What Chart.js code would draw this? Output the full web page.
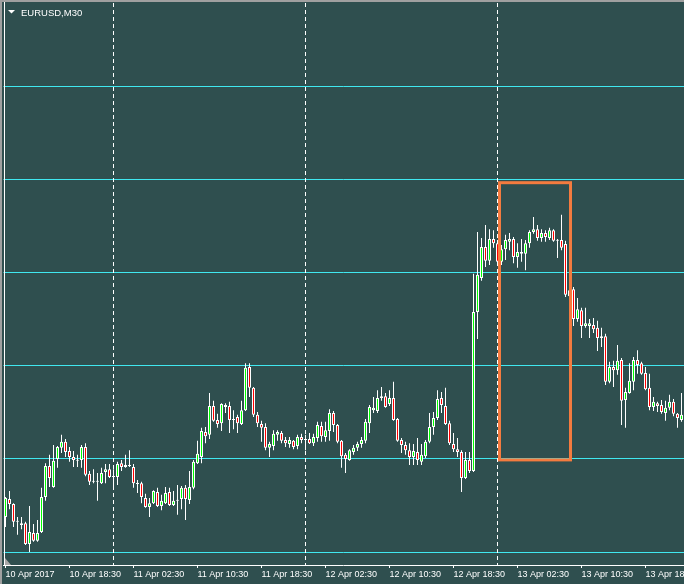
<!DOCTYPE html>
<html>
<head>
<meta charset="utf-8">
<title>EURUSD,M30</title>
<style>
  html, body { margin: 0; padding: 0; background: #2f4f4f; overflow: hidden; }
  canvas { display: block; }
</style>
</head>
<body>
<canvas id="chart" width="684" height="584"></canvas>
<script src="https://cdn.jsdelivr.net/npm/chart.js@4.4.1/dist/chart.umd.min.js"></script>
<script>
// EURUSD M30 bars, oldest first (10 Apr 2017 10:30 onwards)
const opens = [
  1.05875, 1.05914, 1.05903, 1.05867, 1.05862, 1.05862, 1.05817, 1.05841, 1.05824, 1.05843,
  1.05918, 1.05985, 1.05940, 1.06000, 1.06024, 1.06037, 1.06017, 1.06004, 1.05998, 1.05998,
  1.06026, 1.05968, 1.05953, 1.05953, 1.05948, 1.05972, 1.05978, 1.05963, 1.05961, 1.05991,
  1.05983, 1.05987, 1.05983, 1.05948, 1.05948, 1.05916, 1.05897, 1.05905, 1.05929, 1.05899,
  1.05905, 1.05929, 1.05901, 1.05912, 1.05914, 1.05938, 1.05912, 1.05938, 1.05991, 1.06004,
  1.06058, 1.06052, 1.06114, 1.06084, 1.06077, 1.06112, 1.06114, 1.06086, 1.06090, 1.06075,
  1.06105, 1.06198, 1.06153, 1.06095, 1.06075, 1.06069, 1.06024, 1.06028, 1.06052, 1.06056,
  1.06041, 1.06032, 1.06039, 1.06028, 1.06047, 1.06043, 1.06043, 1.06034, 1.06045, 1.06071,
  1.06047, 1.06060, 1.06099, 1.06073, 1.06039, 1.06009, 1.05998, 1.06015, 1.06024, 1.06032,
  1.06039, 1.06077, 1.06105, 1.06103, 1.06131, 1.06135, 1.06118, 1.06131, 1.06086, 1.06041,
  1.06030, 1.06019, 1.06004, 1.06015, 1.05994, 1.06006, 1.06037, 1.06069, 1.06088, 1.06131,
  1.06114, 1.06077, 1.06032, 1.06021, 1.06015, 1.05959, 1.05998, 1.05974, 1.06316, 1.06389,
  1.06456, 1.06426, 1.06473, 1.06464, 1.06424, 1.06451, 1.06467, 1.06473, 1.06434, 1.06441,
  1.06441, 1.06464, 1.06488, 1.06494, 1.06475, 1.06486, 1.06475, 1.06492, 1.06471, 1.06471,
  1.06462, 1.06363, 1.06365, 1.06301, 1.06320, 1.06286, 1.06286, 1.06288, 1.06282, 1.06260,
  1.06264, 1.06166, 1.06198, 1.06191, 1.06213, 1.06127, 1.06142, 1.06166, 1.06213, 1.06206,
  1.06185, 1.06153, 1.06112, 1.06120, 1.06116, 1.06099, 1.06110, 1.06123, 1.06097, 1.06084
];
const highs = [
  1.05918, 1.05931, 1.05905, 1.05875, 1.05875, 1.05865, 1.05899, 1.05860, 1.05869, 1.05938,
  1.05991, 1.06009, 1.06030, 1.06028, 1.06052, 1.06043, 1.06026, 1.06017, 1.06009, 1.06030,
  1.06034, 1.05974, 1.05978, 1.05970, 1.05981, 1.05989, 1.05989, 1.05978, 1.05994, 1.05998,
  1.06009, 1.06019, 1.05989, 1.05955, 1.05951, 1.05925, 1.05916, 1.05933, 1.05938, 1.05923,
  1.05940, 1.05938, 1.05931, 1.05944, 1.05942, 1.05944, 1.05974, 1.05998, 1.06039, 1.06067,
  1.06069, 1.06142, 1.06125, 1.06097, 1.06120, 1.06120, 1.06123, 1.06105, 1.06095, 1.06125,
  1.06206, 1.06206, 1.06155, 1.06101, 1.06082, 1.06077, 1.06037, 1.06062, 1.06062, 1.06060,
  1.06047, 1.06047, 1.06041, 1.06052, 1.06054, 1.06052, 1.06056, 1.06054, 1.06080, 1.06080,
  1.06080, 1.06107, 1.06103, 1.06075, 1.06041, 1.06013, 1.06021, 1.06030, 1.06037, 1.06047,
  1.06086, 1.06116, 1.06133, 1.06148, 1.06155, 1.06142, 1.06148, 1.06166, 1.06088, 1.06045,
  1.06037, 1.06034, 1.06032, 1.06045, 1.06032, 1.06041, 1.06099, 1.06101, 1.06148, 1.06144,
  1.06153, 1.06082, 1.06056, 1.06045, 1.06019, 1.06015, 1.06015, 1.06398, 1.06488, 1.06475,
  1.06503, 1.06494, 1.06492, 1.06471, 1.06460, 1.06482, 1.06486, 1.06477, 1.06464, 1.06473,
  1.06471, 1.06492, 1.06520, 1.06503, 1.06494, 1.06492, 1.06497, 1.06494, 1.06473, 1.06525,
  1.06469, 1.06368, 1.06370, 1.06346, 1.06325, 1.06325, 1.06301, 1.06303, 1.06297, 1.06282,
  1.06269, 1.06209, 1.06211, 1.06245, 1.06217, 1.06153, 1.06206, 1.06219, 1.06234, 1.06209,
  1.06198, 1.06183, 1.06133, 1.06123, 1.06127, 1.06125, 1.06138, 1.06129, 1.06099, 1.06142
];
const lows = [
  1.05854, 1.05892, 1.05854, 1.05837, 1.05849, 1.05815, 1.05800, 1.05822, 1.05822, 1.05841,
  1.05910, 1.05940, 1.05938, 1.05981, 1.06013, 1.06004, 1.05994, 1.05983, 1.05983, 1.05981,
  1.05963, 1.05944, 1.05948, 1.05910, 1.05946, 1.05948, 1.05959, 1.05942, 1.05944, 1.05974,
  1.05981, 1.05983, 1.05938, 1.05927, 1.05905, 1.05895, 1.05875, 1.05903, 1.05897, 1.05890,
  1.05903, 1.05899, 1.05899, 1.05880, 1.05892, 1.05869, 1.05903, 1.05935, 1.05989, 1.05991,
  1.06034, 1.06043, 1.06080, 1.06067, 1.06060, 1.06099, 1.06056, 1.06064, 1.06056, 1.06073,
  1.06103, 1.06133, 1.06090, 1.06069, 1.06037, 1.06019, 1.06004, 1.06019, 1.06039, 1.06034,
  1.06026, 1.06024, 1.06021, 1.06021, 1.06034, 1.06019, 1.06032, 1.06028, 1.06037, 1.06037,
  1.06037, 1.06039, 1.06058, 1.06034, 1.05981, 1.05970, 1.05996, 1.06009, 1.06017, 1.06024,
  1.06034, 1.06056, 1.06099, 1.06099, 1.06125, 1.06110, 1.06114, 1.06082, 1.06037, 1.06013,
  1.06009, 1.05987, 1.05987, 1.05987, 1.05987, 1.06002, 1.06034, 1.06052, 1.06084, 1.06099,
  1.06073, 1.06030, 1.06015, 1.06004, 1.05929, 1.05957, 1.05970, 1.05972, 1.06258, 1.06383,
  1.06413, 1.06417, 1.06454, 1.06417, 1.06417, 1.06428, 1.06449, 1.06421, 1.06411, 1.06424,
  1.06406, 1.06454, 1.06484, 1.06469, 1.06467, 1.06467, 1.06471, 1.06467, 1.06432, 1.06449,
  1.06348, 1.06342, 1.06286, 1.06295, 1.06260, 1.06282, 1.06260, 1.06271, 1.06232, 1.06241,
  1.06159, 1.06163, 1.06155, 1.06181, 1.06073, 1.06067, 1.06140, 1.06148, 1.06183, 1.06181,
  1.06148, 1.06105, 1.06103, 1.06101, 1.06097, 1.06082, 1.06105, 1.06092, 1.06067, 1.06080
];
const closes = [
  1.05916, 1.05903, 1.05865, 1.05865, 1.05858, 1.05817, 1.05843, 1.05824, 1.05841, 1.05918,
  1.05985, 1.05959, 1.05996, 1.06026, 1.06037, 1.06015, 1.06004, 1.05998, 1.05996, 1.06026,
  1.05966, 1.05951, 1.05951, 1.05951, 1.05970, 1.05978, 1.05961, 1.05961, 1.05989, 1.05983,
  1.05987, 1.05985, 1.05948, 1.05946, 1.05918, 1.05897, 1.05905, 1.05931, 1.05899, 1.05910,
  1.05927, 1.05901, 1.05910, 1.05910, 1.05938, 1.05914, 1.05940, 1.05994, 1.06011, 1.06060,
  1.06049, 1.06114, 1.06082, 1.06075, 1.06118, 1.06116, 1.06084, 1.06084, 1.06077, 1.06105,
  1.06196, 1.06153, 1.06095, 1.06077, 1.06067, 1.06024, 1.06032, 1.06054, 1.06058, 1.06039,
  1.06034, 1.06041, 1.06026, 1.06047, 1.06041, 1.06041, 1.06034, 1.06047, 1.06073, 1.06049,
  1.06062, 1.06099, 1.06073, 1.06037, 1.06006, 1.06000, 1.06019, 1.06024, 1.06032, 1.06041,
  1.06080, 1.06112, 1.06110, 1.06131, 1.06135, 1.06112, 1.06131, 1.06084, 1.06039, 1.06030,
  1.06019, 1.06004, 1.06017, 1.05998, 1.06009, 1.06037, 1.06069, 1.06088, 1.06129, 1.06116,
  1.06075, 1.06034, 1.06021, 1.06015, 1.05959, 1.05998, 1.05974, 1.06316, 1.06396, 1.06456,
  1.06426, 1.06473, 1.06464, 1.06424, 1.06451, 1.06471, 1.06473, 1.06434, 1.06445, 1.06445,
  1.06464, 1.06488, 1.06494, 1.06475, 1.06486, 1.06477, 1.06492, 1.06469, 1.06469, 1.06454,
  1.06353, 1.06350, 1.06301, 1.06322, 1.06286, 1.06292, 1.06292, 1.06279, 1.06260, 1.06264,
  1.06166, 1.06198, 1.06191, 1.06211, 1.06125, 1.06144, 1.06168, 1.06213, 1.06202, 1.06183,
  1.06150, 1.06112, 1.06123, 1.06114, 1.06101, 1.06110, 1.06123, 1.06097, 1.06088, 1.06095
];

// time axis: bar index of each label
const tickBars = [0, 16, 32, 48, 64, 80, 96, 112, 128, 144, 160];
const tickLabels = ['10 Apr 2017', '10 Apr 18:30', '11 Apr 02:30', '11 Apr 10:30', '11 Apr 18:30',
  '12 Apr 02:30', '12 Apr 10:30', '12 Apr 18:30', '13 Apr 02:30', '13 Apr 10:30', '13 Apr 18:30'];

// period separators (first bar of each day)
const dayBars = [27, 75, 123];

// horizontal price levels
const levels = [1.0580, 1.0600, 1.0620, 1.0640, 1.0660, 1.0680];

// rectangle object: [from bar, to bar] and [low price, high price]
const boxBars = [123.5, 141.25];
const boxPrices = [1.05998, 1.06594];

const BG = '#2f4f4f';
const BULL = '#00ff00';
const BEAR = '#ff0000';

const bodies = opens.map((o, i) => [Math.min(o, closes[i]), Math.max(o, closes[i])]);
const wicks = lows.map((l, i) => [l, highs[i]]);
const bodyColors = opens.map((o, i) =>
  closes[i] > o ? BULL : (closes[i] < o ? BEAR : '#ffffff'));

// terminal look: frame, separators, box, title
const terminal = {
  id: 'terminal',
  beforeDraw(chart) {
    const ctx = chart.ctx;
    ctx.save();
    ctx.fillStyle = BG;
    ctx.fillRect(0, 0, chart.width, chart.height);
    ctx.restore();
  },
  beforeDatasetsDraw(chart) {
    const ctx = chart.ctx;
    const x = chart.scales.x;
    const area = chart.chartArea;
    ctx.save();
    ctx.strokeStyle = '#ffffff';
    ctx.lineWidth = 1;
    ctx.setLineDash([4, 3]);
    dayBars.forEach(b => {
      const px = Math.round(x.getPixelForValue(b)) - 0.5;
      ctx.beginPath();
      ctx.moveTo(px, area.top - 2);
      ctx.lineTo(px, area.bottom);
      ctx.stroke();
    });
    ctx.restore();
  },
  afterDatasetsDraw(chart) {
    const ctx = chart.ctx;
    const x = chart.scales.x;
    const y = chart.scales.y;
    const x1 = x.getPixelForValue(boxBars[0]);
    const x2 = x.getPixelForValue(boxBars[1]);
    const y1 = y.getPixelForValue(boxPrices[1]);
    const y2 = y.getPixelForValue(boxPrices[0]);
    ctx.save();
    ctx.strokeStyle = '#f47b3f';
    ctx.lineWidth = 3;
    ctx.strokeRect(x1, y1, x2 - x1, y2 - y1);
    ctx.restore();
  },
  afterDraw(chart) {
    const ctx = chart.ctx;
    const area = chart.chartArea;
    ctx.save();
    // window edges
    ctx.fillStyle = '#a0a0a0';
    ctx.fillRect(0, 0, chart.width, 2);
    ctx.fillRect(0, 0, 2, chart.height);
    ctx.fillStyle = '#ffffff';
    ctx.fillRect(4, 2, 1, area.bottom - 2);
    // shift marker
    ctx.fillStyle = '#a8a8a8';
    ctx.beginPath();
    ctx.moveTo(5, 558);
    ctx.lineTo(11, 565);
    ctx.lineTo(5, 565);
    ctx.closePath();
    ctx.fill();
    // symbol title
    ctx.fillStyle = '#ffffff';
    ctx.beginPath();
    ctx.moveTo(8, 10);
    ctx.lineTo(15, 10);
    ctx.lineTo(11.5, 13.5);
    ctx.closePath();
    ctx.fill();
    ctx.font = '9.5px "Liberation Sans", Arial, sans-serif';
    ctx.textBaseline = 'alphabetic';
    ctx.fillText('EURUSD,M30', 21, 16);
    ctx.restore();
  }
};

new Chart(document.getElementById('chart'), {
  type: 'bar',
  data: {
    labels: opens.map((_, i) => i),
    datasets: [
      {
        label: 'body',
        data: bodies,
        backgroundColor: bodyColors,
        borderColor: '#ffffff',
        borderWidth: 1,
        borderSkipped: false,
        barThickness: 3,
        minBarLength: 1,
        inflateAmount: 0,
        grouped: false
      },
      {
        label: 'wick',
        data: wicks,
        backgroundColor: '#ffffff',
        borderWidth: 0,
        barThickness: 1,
        inflateAmount: 0,
        grouped: false
      }
    ]
  },
  options: {
    responsive: false,
    animation: false,
    devicePixelRatio: 1,
    layout: { padding: { left: 3.5, right: 0.5, top: 5, bottom: 0 } },
    plugins: { legend: { display: false }, tooltip: { enabled: false }, title: { display: false } },
    scales: {
      x: {
        type: 'category',
        offset: true,
        afterBuildTicks: s => { s.ticks = tickBars.map(v => ({ value: v })); },
        afterFit: s => { s.height = 19; s.paddingLeft = 0; s.paddingRight = 0; },
        grid: { drawOnChartArea: false, drawTicks: true, tickLength: 3, offset: false, color: '#ffffff', tickColor: '#ffffff' },
        border: { display: true, color: '#ffffff', width: 1 },
        ticks: {
          autoSkip: false,
          maxRotation: 0,
          minRotation: 0,
          align: 'start',
          padding: 1,
          color: '#ffffff',
          font: { family: '"Liberation Sans", Arial, sans-serif', size: 9 },
          callback: (v, i) => tickLabels[i]
        }
      },
      y: {
        type: 'linear',
        position: 'right',
        min: 1.0577205,
        max: 1.0697605,
        afterBuildTicks: s => { s.ticks = levels.map(v => ({ value: v })); },
        afterFit: s => { s.width = 0; },
        grid: { color: '#40e8f0', lineWidth: 1, drawTicks: false },
        border: { display: false },
        ticks: { display: false }
      }
    }
  },
  plugins: [terminal]
});
</script>
</body>
</html>
